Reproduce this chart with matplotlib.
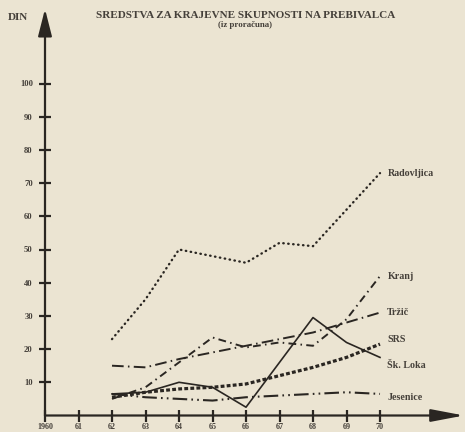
import matplotlib
matplotlib.use('Agg')
import matplotlib.pyplot as plt

# ---- data ----
year_labels = ['1960', '61', '62', '63', '64', '65', '66', '67', '68', '69', '70']
x_idx = [2, 3, 4, 5, 6, 7, 8, 9, 10]
radovljica = [23, 35, 50, 48, 46, 52, 51, 62, 73]
kranj = [5, 8.5, 16, 23.5, 20.5, 22, 21, 29, 42]
trzic = [15, 14.5, 17, 19, 21, 23, 25, 28, 31]
srs = [5.5, 7, 8, 8.5, 9.5, 12, 14.5, 17.5, 21.5]
skofja_loka = [6.5, 7, 10, 8.5, 2.5, 16, 29.5, 22, 17.5]
jesenice = [6.5, 5.5, 5, 4.5, 5.5, 6, 6.5, 7, 6.5]
y_ticks = [10, 20, 30, 40, 50, 60, 70, 80, 90, 100]
series_names = ['Radovljica', 'Kranj', 'Tržič', 'SRS', 'Šk. Loka', 'Jesenice']

bg = '#ebe4d2'
ink = '#2a2622'
W, H = 465, 432
ox, oy = 45, 415.5        # origin in pixels (from top-left)
px_x, px_y = 33.5, 3.32   # pixels per year step / per unit

fig = plt.figure(figsize=(W / 100, H / 100), dpi=100, facecolor=bg)
ax = fig.add_axes([ox / W, (H - oy) / H, (W - ox) / W, oy / H])
ax.patch.set_alpha(0)
xmax = (W - ox) / px_x
ymax = oy / px_y
ax.set_xlim(0, xmax)
ax.set_ylim(0, ymax)
for s in ax.spines.values():
    s.set_visible(False)

font = dict(family=['Liberation Serif', 'DejaVu Serif'], weight='bold', color='#45403a')

# axes with arrows
ax.annotate('', xy=(0, (oy - 9) / px_y), xytext=(0, 0),
            arrowprops=dict(arrowstyle='-|>,head_length=1.65,head_width=0.42',
                            lw=1.6, color=ink, shrinkA=0, shrinkB=0),
            annotation_clip=False)
ax.annotate('', xy=((W - 1 - ox) / px_x, 0), xytext=(0, 0),
            arrowprops=dict(arrowstyle='-|>,head_length=2.0,head_width=0.38',
                            lw=1.6, color=ink, shrinkA=0, shrinkB=0),
            annotation_clip=False)

ax.set_xticks(range(len(year_labels)))
ax.set_xticklabels(year_labels, **font, fontsize=5.8)
ax.set_yticks(y_ticks)
ax.set_yticklabels([str(v) for v in y_ticks], **font, fontsize=6.2)
ax.tick_params(axis='both', direction='inout', length=8.5, width=1.6, color=ink)
ax.tick_params(axis='x', pad=1.5)
ax.tick_params(axis='y', pad=4.5)

styles = [
    dict(ls=(0, (0.2, 1.9)), lw=1.7, dash_capstyle='round'),
    dict(ls=(0, (4, 2.2, 0.8, 2.2)), lw=1.4),
    dict(ls=(0, (6, 2.2, 0.8, 2.2)), lw=1.4),
    dict(ls=(0, (1.2, 0.7)), lw=2.3),
    dict(ls='-', lw=1.2),
    dict(ls=(0, (7, 2, 0.8, 2, 0.8, 2)), lw=1.5),
]
data = [radovljica, kranj, trzic, srs, skofja_loka, jesenice]
label_offsets = [0, 0, 0, 1.5, -2.5, -1]
for name, vals, st, off in zip(series_names, data, styles, label_offsets):
    ax.plot(x_idx, vals, color=ink, **st)
    ax.text(x_idx[-1] + 0.22, vals[-1] + off, name, fontsize=7.2, va='center',
            ha='left', **font)

# texts
fig.text(246 / W, 1 - 15 / H, 'SREDSTVA ZA KRAJEVNE SKUPNOSTI NA PREBIVALCA',
         ha='center', va='center', fontsize=8.0, **font)
fig.text(245 / W, 1 - 25 / H, '(iz proračuna)', ha='center', va='center',
         fontsize=6.4, **font)
fig.text(18 / W, 1 - 17 / H, 'DIN', ha='center', va='center', fontsize=8.0, **font)

fig.savefig('out.png', dpi=100, facecolor=bg)
